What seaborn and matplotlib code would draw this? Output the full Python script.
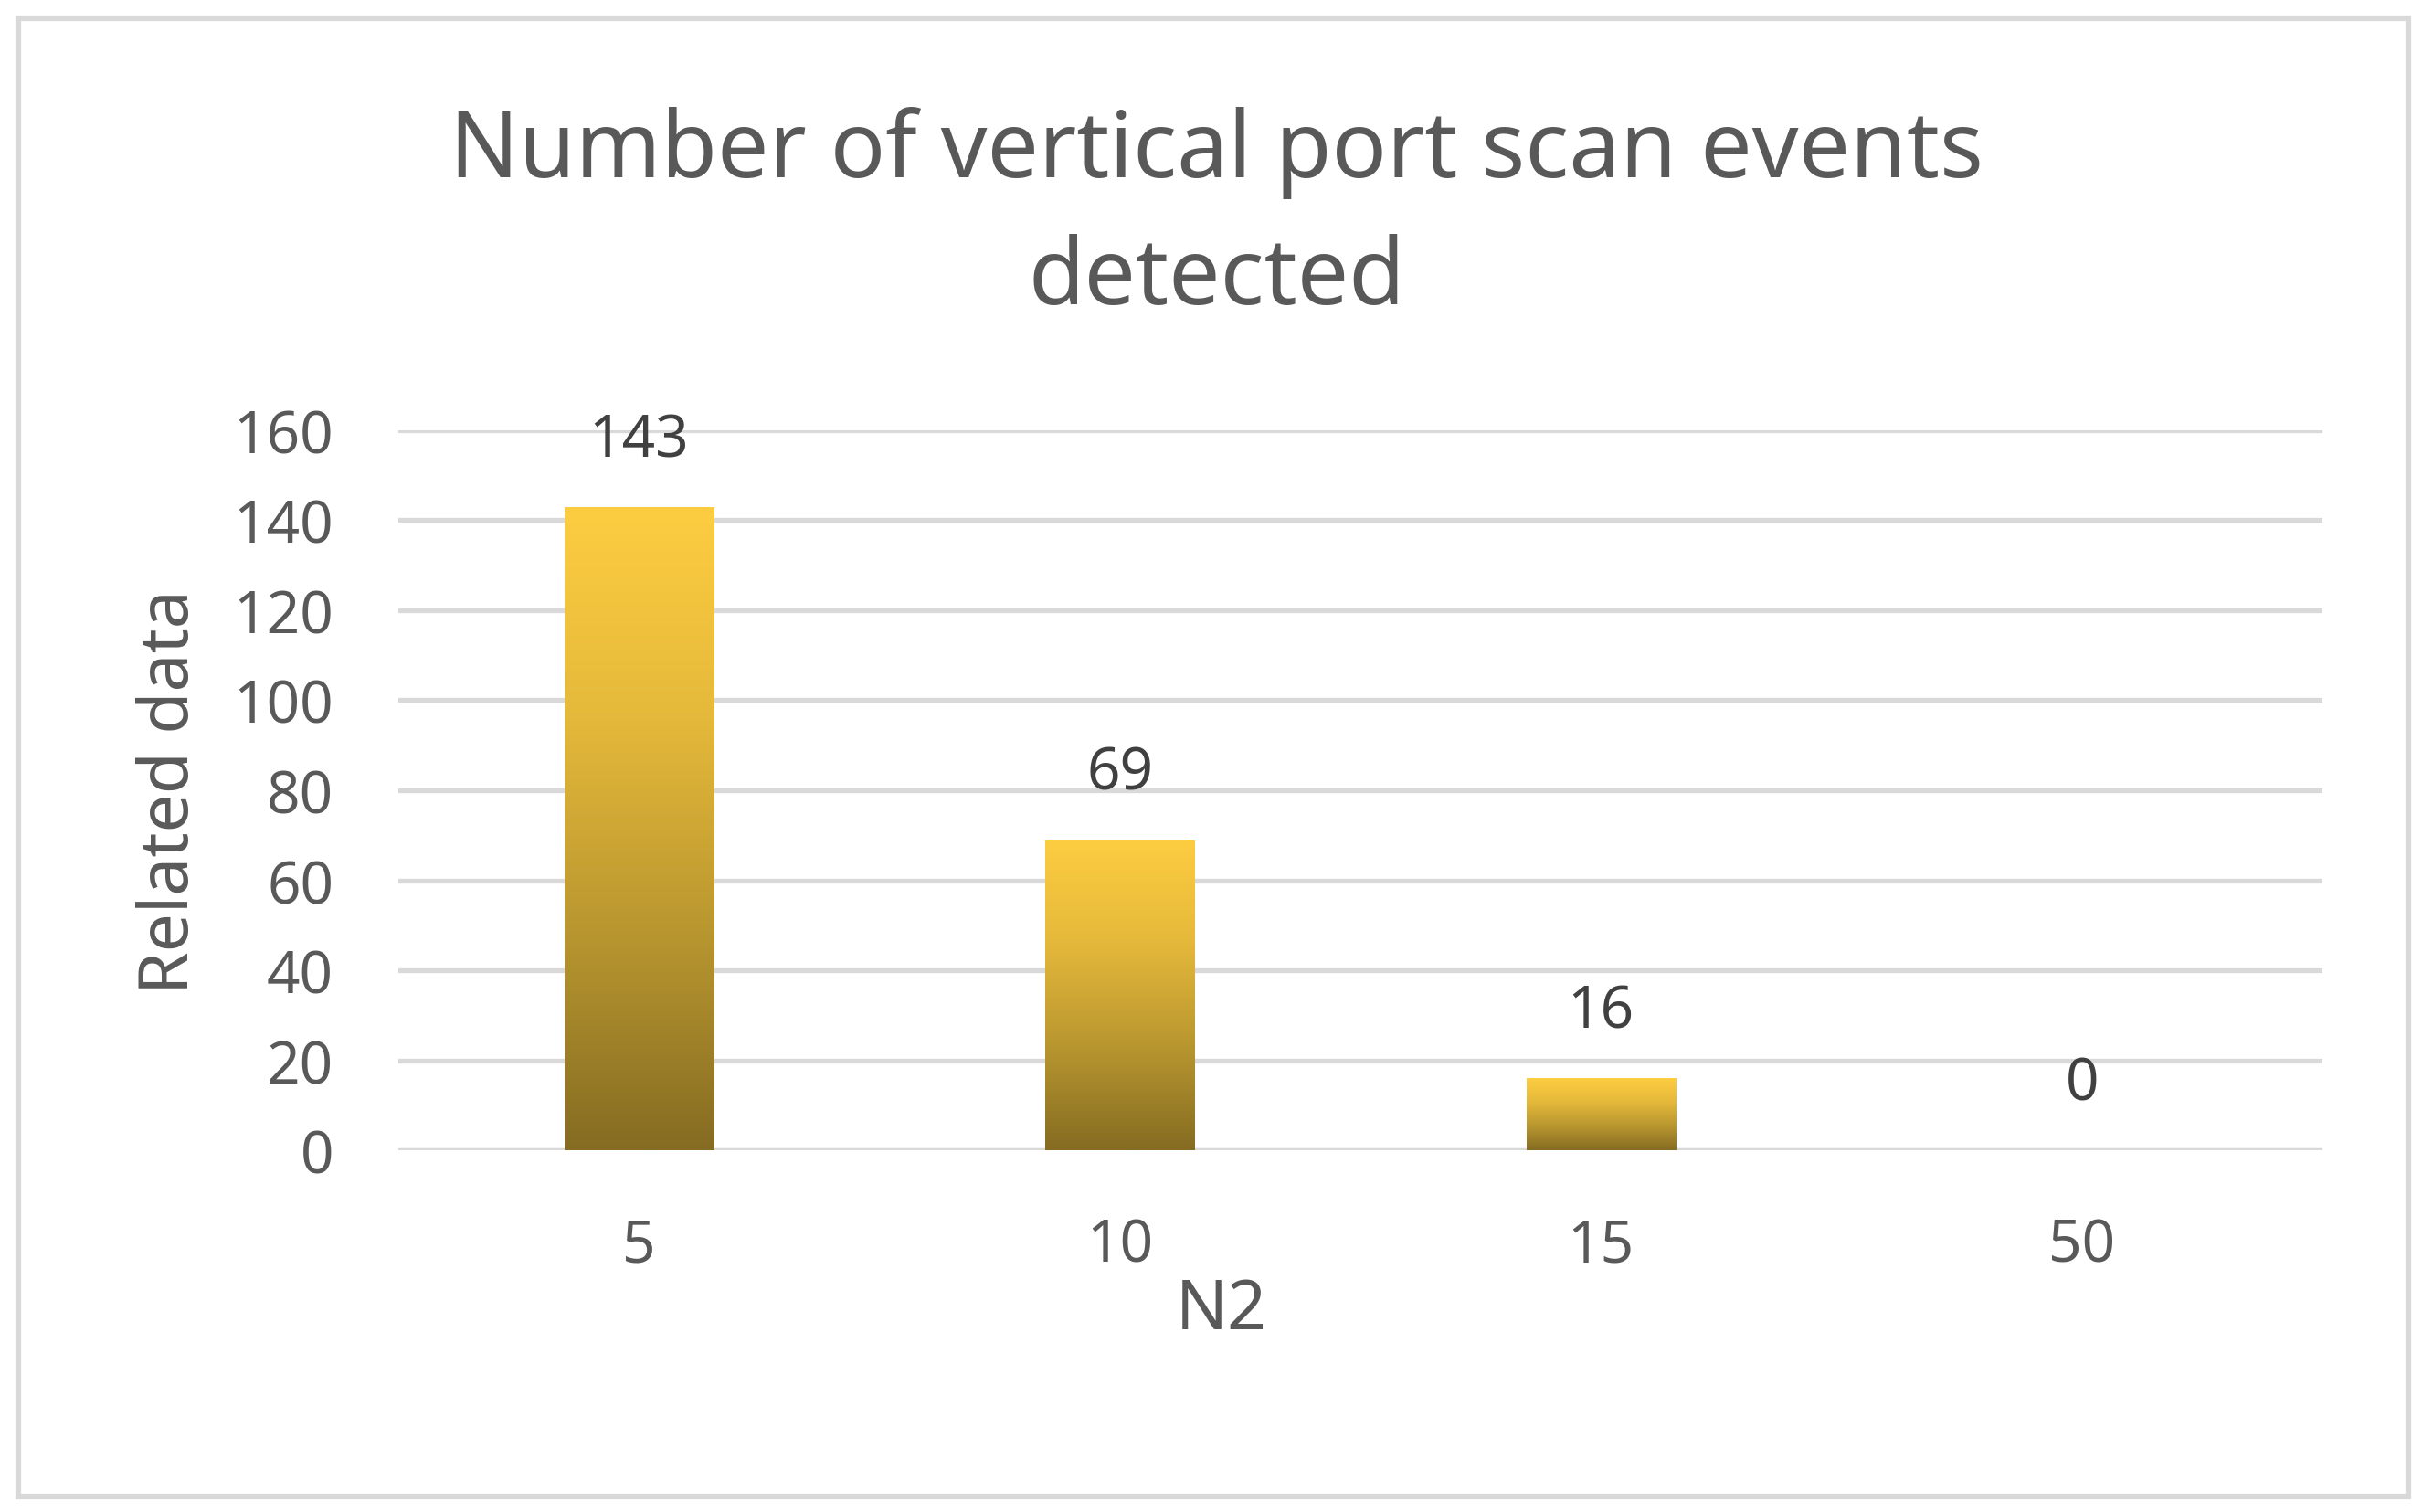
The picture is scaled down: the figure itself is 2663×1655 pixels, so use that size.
import numpy as np
import pandas as pd
import matplotlib
matplotlib.use("Agg")
import matplotlib.pyplot as plt
import seaborn as sns
from matplotlib.colors import LinearSegmentedColormap
from matplotlib.patches import Rectangle

sns.set_theme(style="white")
plt.rcParams['font.family'] = ['Noto Sans', 'DejaVu Sans']

# data
n2 = ["5", "10", "15", "50"]
events = [143, 69, 16, 0]
y_ticks = [0, 20, 40, 60, 80, 100, 120, 140, 160]

df = pd.DataFrame({"N2": n2, "events": events})

grey = "#595959"
fig = plt.figure(figsize=(26.63, 16.56), dpi=100)
ax = fig.add_axes([0.1637, 0.2391, 0.7909, 0.4759])

sns.barplot(data=df, x="N2", y="events", ax=ax, width=0.31, color="#c9a233",
            errorbar=None, zorder=3)

# gradient fill per bar (yellow top -> brown bottom)
cmap = LinearSegmentedColormap.from_list("gold", ["#856c22", "#b8962f", "#e4b83a", "#fdcd41"])
grad = np.linspace(0, 1, 256).reshape(-1, 1)
for p in ax.patches:
    x0, y0 = p.get_x(), p.get_y()
    w, h = p.get_width(), p.get_height()
    if h <= 0:
        p.set_visible(False)
        continue
    p.set_facecolor("none")
    p.set_edgecolor("none")
    im = ax.imshow(grad, cmap=cmap, origin="lower", aspect="auto",
                   extent=[x0, x0 + w, y0, y0 + h], zorder=3)
    im.set_clip_path(p)

ax.bar_label(ax.containers[0], labels=[str(v) for v in events], padding=29,
             fontsize=46, color="#404040")

ax.set_xlim(-0.5, 3.5)
ax.set_ylim(0, 160)
ax.set_yticks(y_ticks)
ax.yaxis.grid(True, color="#d9d9d9", linewidth=3.8, zorder=0)
ax.set_axisbelow(True)
sns.despine(ax=ax, left=True, bottom=True, top=True, right=True)
ax.axhline(0, color="#d9d9d9", linewidth=3.8, zorder=1)
ax.tick_params(axis="both", length=0, labelsize=46, colors=grey)
ax.tick_params(axis="x", pad=52)
ax.tick_params(axis="y", pad=51)
ax.set_xlabel("")
ax.set_ylabel("")

fig.text(0.5, 0.857, "Number of vertical port scan events\ndetected", ha="center",
         va="center", fontsize=72, color=grey, linespacing=1.5)
fig.text(0.070, 0.477, "Related data", rotation=90, ha="center", va="center",
         fontsize=54, color=grey)
fig.text(0.502, 0.1334, "N2", ha="center", va="center", fontsize=54, color=grey)

fig.patches.append(Rectangle((0.0075, 0.0103), 0.9824, 0.977, transform=fig.transFigure,
                             fill=False, edgecolor="#d9d9d9", linewidth=4.5))

fig.savefig("out.png", dpi=100, facecolor="white")
